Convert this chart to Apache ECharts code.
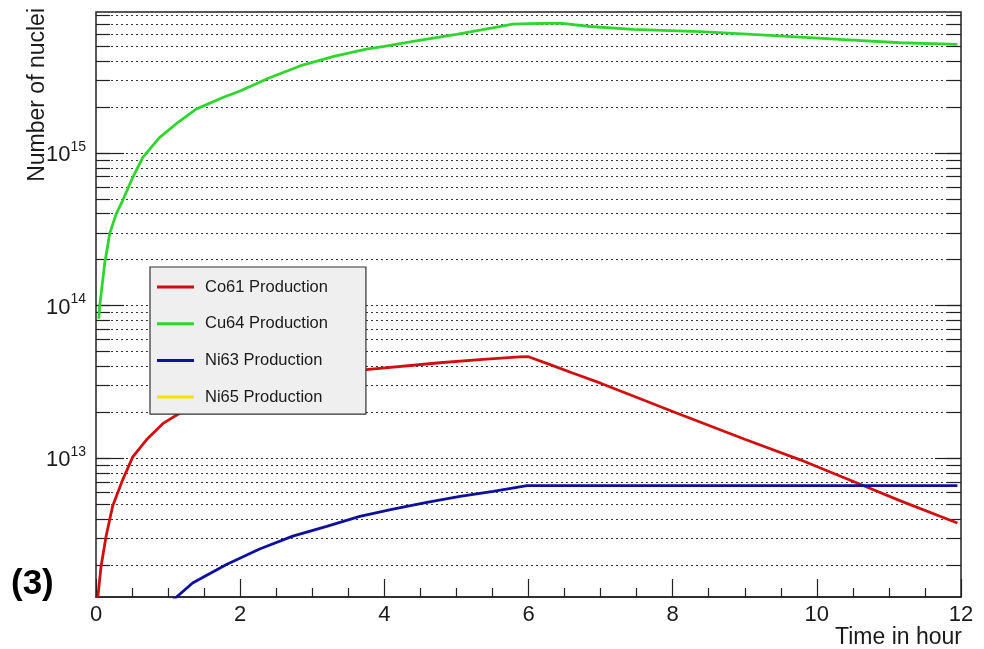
<!DOCTYPE html>
<html>
<head>
<meta charset="utf-8">
<script src="https://cdn.jsdelivr.net/npm/echarts@6/dist/echarts.min.js"></script>
<style>
  html, body { margin: 0; padding: 0; background: #ffffff; }
  #chart { width: 984px; height: 649px; }
</style>
</head>
<body>
<div id="chart"></div>
<script>
const FONT = '"Liberation Sans", Arial, Helvetica, sans-serif';
const INK = '#1a1a1a';

// Time axis, hours
const xMin = 0;
const xMax = 12;
const xMajorStep = 2;

// Number-of-nuclei axis (logarithmic)
const yMin = 1.23e12;
const yMax = 8.4e15;
const yMajorTicks = [1e13, 1e14, 1e15];
const yGridValues = [
  2e12, 3e12, 4e12, 5e12, 6e12, 7e12, 8e12, 9e12,
  1e13, 2e13, 3e13, 4e13, 5e13, 6e13, 7e13, 8e13, 9e13,
  1e14, 2e14, 3e14, 4e14, 5e14, 6e14, 7e14, 8e14, 9e14,
  1e15, 2e15, 3e15, 4e15, 5e15, 6e15, 7e15, 8e15
];

const seriesNames = ['Co61 Production', 'Cu64 Production', 'Ni63 Production', 'Ni65 Production'];

// Co61
const co61Time  = [0.025, 0.07, 0.14, 0.23, 0.37, 0.51, 0.70, 0.93, 1.16, 1.5, 2.0, 2.5, 3.0, 3.75, 4.77, 5.37, 5.88, 6.0, 6.3, 6.62, 7.0, 7.55, 8.0, 9.0, 9.77, 10.6, 11.16, 11.95];
const co61Count = [1.22e12, 1.95e12, 3.08e12, 4.83e12, 7.21e12, 1.02e13, 1.32e13, 1.69e13, 1.97e13, 2.4e13, 2.85e13, 3.25e13, 3.55e13, 3.8e13, 4.22e13, 4.44e13, 4.61e13, 4.62e13, 4.1e13, 3.6e13, 3.1e13, 2.45e13, 2.02e13, 1.33e13, 9.75e12, 6.75e12, 5.25e12, 3.76e12];

// Cu64
const cu64Time  = [0.04, 0.05, 0.12, 0.19, 0.28, 0.37, 0.51, 0.65, 0.88, 1.11, 1.39, 1.76, 2.0, 2.4, 2.83, 3.3, 3.75, 4.0, 4.4, 5.0, 5.5, 5.78, 6.0, 6.44, 6.85, 7.45, 8.38, 9.1, 9.77, 10.5, 11.16, 11.95];
const cu64Count = [8.2e13, 9.8e13, 1.88e14, 2.96e14, 3.99e14, 4.88e14, 6.93e14, 9.36e14, 1.26e15, 1.55e15, 1.94e15, 2.31e15, 2.55e15, 3.1e15, 3.72e15, 4.3e15, 4.8e15, 5.0e15, 5.4e15, 6.0e15, 6.6e15, 7.0e15, 7.05e15, 7.1e15, 6.75e15, 6.46e15, 6.24e15, 6.0e15, 5.75e15, 5.5e15, 5.28e15, 5.15e15];

// Ni63
const ni63Time  = [0.5, 1.0, 1.34, 1.81, 2.27, 2.73, 3.2, 3.66, 4.12, 4.59, 5.05, 5.51, 5.98, 7.0, 8.0, 9.0, 10.0, 11.0, 11.95];
const ni63Count = [5.5e11, 1.1e12, 1.52e12, 2.01e12, 2.54e12, 3.08e12, 3.57e12, 4.15e12, 4.64e12, 5.13e12, 5.61e12, 6.05e12, 6.6e12, 6.6e12, 6.6e12, 6.6e12, 6.6e12, 6.6e12, 6.6e12];

// Ni65 stays below the plotted range
const ni65Time  = [];
const ni65Count = [];

const seriesColors = ['#d10f0f', '#2ed62e', '#10109e', '#f2e600'];

function pairs(ts, vs) { return ts.map((t, i) => [t, vs[i]]); }

function logAxis(position, opts) {
  return Object.assign({
    type: 'log',
    logBase: 10,
    position: position,
    min: yMin,
    max: yMax,
    axisLine: { show: false },
    axisLabel: { show: false },
    splitLine: { show: false },
    minorTick: { show: false },
    minorSplitLine: { show: false }
  }, opts);
}

const chart = echarts.init(document.getElementById('chart'), null, { renderer: 'canvas' });

chart.setOption({
  animation: false,
  backgroundColor: '#ffffff',
  textStyle: { fontFamily: FONT },
  grid: {
    left: 96, right: 23, top: 12, bottom: 52,
    show: true, borderColor: '#222', borderWidth: 1.5, backgroundColor: 'transparent'
  },
  legend: {
    orient: 'vertical',
    left: 150, top: 267,
    padding: [10, 38, 7, 7],
    itemWidth: 37, itemHeight: 3, itemGap: 16.7,
    icon: 'rect',
    selectedMode: false,
    backgroundColor: '#efefef',
    borderColor: '#333', borderWidth: 1.2,
    textStyle: { fontFamily: FONT, fontSize: 16.5, color: INK, lineHeight: 20, padding: [0, 0, 0, 6] },
    data: seriesNames
  },
  xAxis: {
    type: 'value',
    min: xMin, max: xMax, interval: xMajorStep,
    axisLine: { show: true, lineStyle: { color: '#222', width: 1.5 } },
    axisTick: { show: true, inside: true, length: 18, lineStyle: { color: '#222', width: 1.2 } },
    minorTick: { show: true, splitNumber: 4, length: 9, lineStyle: { color: '#222', width: 1.2 } },
    axisLabel: { margin: 7, fontFamily: FONT, fontSize: 22, color: INK },
    splitLine: { show: false }
  },
  yAxis: [
    // left: decade ticks and labels
    logAxis('left', {
      axisTick: { show: true, inside: true, length: 28, customValues: yMajorTicks, lineStyle: { color: '#222', width: 1.2 } },
      axisLabel: {
        show: true, margin: 10, customValues: yMajorTicks,
        formatter: v => '{b|10}{s|' + Math.round(Math.log10(v)) + '}',
        rich: {
          b: { fontFamily: FONT, fontSize: 22, color: INK, lineHeight: 26, verticalAlign: 'bottom' },
          s: { fontFamily: FONT, fontSize: 14, color: INK, lineHeight: 20, verticalAlign: 'top' }
        }
      }
    }),
    // left: sub-decade ticks and dotted grid
    logAxis('left', {
      axisTick: { show: true, inside: true, length: 14, customValues: yGridValues, lineStyle: { color: '#222', width: 1.2 } },
      splitLine: { show: true, lineStyle: { color: '#333', width: 1, type: [2, 3] } }
    }),
    // right: decade ticks
    logAxis('right', {
      axisTick: { show: true, inside: true, length: 26, customValues: yMajorTicks, lineStyle: { color: '#222', width: 1.2 } }
    }),
    // right: sub-decade ticks
    logAxis('right', {
      axisTick: { show: true, inside: true, length: 14, customValues: yGridValues, lineStyle: { color: '#222', width: 1.2 } }
    })
  ],
  series: [
    { name: seriesNames[0], type: 'line', data: pairs(co61Time, co61Count), color: seriesColors[0] },
    { name: seriesNames[1], type: 'line', data: pairs(cu64Time, cu64Count), color: seriesColors[1] },
    { name: seriesNames[2], type: 'line', data: pairs(ni63Time, ni63Count), color: seriesColors[2] },
    { name: seriesNames[3], type: 'line', data: pairs(ni65Time, ni65Count), color: seriesColors[3] }
  ].map(s => Object.assign(s, {
    yAxisIndex: 0,
    showSymbol: false,
    symbol: 'none',
    clip: true,
    lineStyle: { width: 2.8, color: s.color },
    itemStyle: { color: s.color },
    z: 3
  })),
  graphic: [
    {
      type: 'text', x: 38, y: 8, rotation: Math.PI / 2,
      style: { text: 'Number of nuclei', font: '23px ' + FONT, fill: INK, align: 'right', verticalAlign: 'middle' }
    },
    {
      type: 'text', x: 962, y: 638,
      style: { text: 'Time in hour', font: '23px ' + FONT, fill: INK, align: 'right', verticalAlign: 'middle' }
    },
    {
      type: 'text', x: 11, y: 584,
      style: { text: '(3)', font: 'bold 35px ' + FONT, fill: '#000', align: 'left', verticalAlign: 'middle' }
    }
  ]
});
</script>
</body>
</html>
